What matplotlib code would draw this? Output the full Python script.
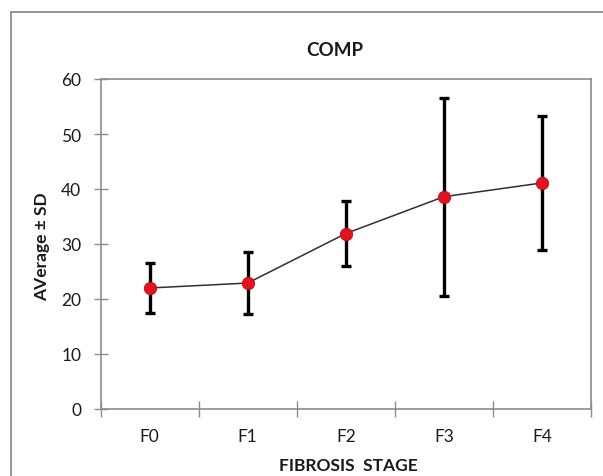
import matplotlib
matplotlib.use("Agg")
import matplotlib.pyplot as plt
from matplotlib.patches import Rectangle

categories = ["F0", "F1", "F2", "F3", "F4"]
means = [22.0, 22.9, 31.9, 38.6, 41.1]
sds = [4.6, 5.6, 5.9, 18.0, 12.1]
yticks = [0, 10, 20, 30, 40, 50, 60]

plt.rcParams['font.family'] = ['Lato', 'DejaVu Sans']

W, H = 603, 477
fig = plt.figure(figsize=(W/100, H/100), dpi=100)
fig.patches.append(Rectangle((10.5/W, -0.1), 1.2, (H-12.7)/H + 0.1, transform=fig.transFigure,
                             fill=False, edgecolor='#8c8c8c', linewidth=1.3))

ax = fig.add_axes([100.5/W, (H-410)/H, 490.5/W, 330/H])
x = list(range(len(categories)))
ax.plot(x, means, color='#303030', linewidth=1.1, zorder=2)
ax.errorbar(x, means, yerr=sds, fmt='none', ecolor='black', elinewidth=2.4,
            capsize=3.6, capthick=2.4, zorder=3)
ax.plot(x, means, linestyle='none', marker='o', markersize=8.9,
        markerfacecolor='#e8101c', markeredgecolor='#b01018', markeredgewidth=0.6, zorder=4)

ax.set_xlim(-0.5, len(categories) - 0.5)
ax.set_ylim(0, 60)
ax.set_yticks(yticks)
ax.set_yticklabels([str(t) for t in yticks])
ax.set_xticks(x)
ax.set_xticklabels(categories)
ax.set_xticks([i + 0.5 for i in range(-1, len(categories))], minor=True)

for s in ax.spines.values():
    s.set_color('#8c8c8c')
    s.set_linewidth(1.2)

ax.tick_params(axis='y', direction='inout', length=10.5, width=1, color='#8c8c8c',
               labelsize=12.5, labelcolor='#1a1a1a', pad=8.5)
ax.tick_params(axis='x', which='major', length=0, labelsize=12.5, labelcolor='#1a1a1a', pad=14)
ax.tick_params(axis='x', which='minor', direction='inout', length=11.5, width=1, color='#8c8c8c')

fig.text(335/W, 1 - 50/H, "COMP", ha='center', va='center', fontsize=13.5, fontweight='bold', color='#1a1a1a')
fig.text(348/W, 1 - 466/H, "FIBROSIS  STAGE", ha='center', va='center', fontsize=12.5, fontweight='bold', color='#1a1a1a')
fig.text(42/W, 1 - 247/H, "AVerage ± SD", ha='center', va='center', rotation=90, fontsize=12.5,
         fontweight='bold', color='#1a1a1a')

fig.savefig("out.png", dpi=100)
